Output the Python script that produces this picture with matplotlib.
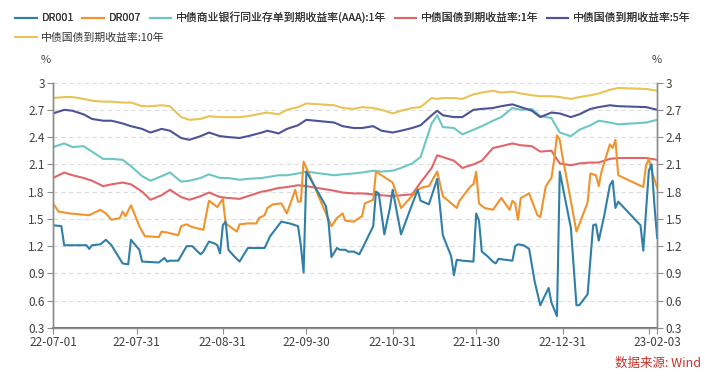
import matplotlib
matplotlib.use("Agg")
import matplotlib.pyplot as plt
import pandas as pd

plt.rcParams['font.family'] = ['Noto Sans CJK SC', 'DejaVu Sans']

# DR001
dr001_dates = ['2022-07-01', '2022-07-04', '2022-07-05', '2022-07-11', '2022-07-13', '2022-07-14',
               '2022-07-15', '2022-07-18', '2022-07-20', '2022-07-22', '2022-07-26', '2022-07-28',
               '2022-07-29', '2022-08-01', '2022-08-02', '2022-08-08', '2022-08-10', '2022-08-11',
               '2022-08-12', '2022-08-15', '2022-08-18', '2022-08-20', '2022-08-23', '2022-08-24',
               '2022-08-26', '2022-08-28', '2022-08-29', '2022-08-30', '2022-08-31', '2022-09-01',
               '2022-09-02', '2022-09-04', '2022-09-06', '2022-09-09', '2022-09-15', '2022-09-17',
               '2022-09-21', '2022-09-24', '2022-09-27', '2022-09-28', '2022-09-29', '2022-09-30',
               '2022-10-07', '2022-10-08', '2022-10-09', '2022-10-11', '2022-10-12', '2022-10-14',
               '2022-10-15', '2022-10-17', '2022-10-19', '2022-10-21', '2022-10-24', '2022-10-25',
               '2022-10-26', '2022-10-28', '2022-10-30', '2022-10-31', '2022-11-03', '2022-11-06',
               '2022-11-09', '2022-11-10', '2022-11-13', '2022-11-16', '2022-11-18', '2022-11-21',
               '2022-11-22', '2022-11-23', '2022-11-25', '2022-11-29', '2022-11-30', '2022-12-01',
               '2022-12-02', '2022-12-04', '2022-12-06', '2022-12-07', '2022-12-08', '2022-12-13',
               '2022-12-14', '2022-12-15', '2022-12-17', '2022-12-19', '2022-12-21', '2022-12-23',
               '2022-12-26', '2022-12-27', '2022-12-29', '2022-12-30', '2023-01-03', '2023-01-05',
               '2023-01-06', '2023-01-09', '2023-01-11', '2023-01-12', '2023-01-13', '2023-01-15',
               '2023-01-17', '2023-01-18', '2023-01-19', '2023-01-20', '2023-01-28', '2023-01-29',
               '2023-01-31', '2023-02-01', '2023-02-02', '2023-02-03']
dr001 = [1.43, 1.42, 1.21, 1.21, 1.21, 1.17,
         1.21, 1.22, 1.27, 1.21, 1.01, 1.00,
         1.27, 1.16, 1.03, 1.02, 1.07, 1.03,
         1.04, 1.04, 1.20, 1.20, 1.11, 1.14,
         1.25, 1.23, 1.21, 1.12, 1.43, 1.47,
         1.16, 1.09, 1.03, 1.18, 1.18, 1.31,
         1.47, 1.45, 1.42, 1.21, 0.91, 2.02,
         1.64, 1.45, 1.08, 1.18, 1.16, 1.16,
         1.14, 1.14, 1.11, 1.23, 1.42, 1.80,
         1.78, 1.33, 1.62, 1.82, 1.33, 1.58,
         1.82, 1.70, 1.66, 1.94, 1.32, 1.09,
         0.88, 1.05, 1.04, 1.03, 1.56, 1.48,
         1.14, 1.09, 1.03, 1.01, 1.06, 1.04,
         1.20, 1.22, 1.21, 1.17, 0.81, 0.55,
         0.74, 0.58, 0.43, 2.02, 1.40, 0.55,
         0.55, 0.67, 1.43, 1.44, 1.26, 1.54,
         1.87, 1.92, 1.62, 1.69, 1.43, 1.15,
         2.03, 2.10, 1.65, 1.29]

# DR007
dr007_dates = ['2022-07-01', '2022-07-03', '2022-07-07', '2022-07-14', '2022-07-18', '2022-07-20',
               '2022-07-22', '2022-07-25', '2022-07-26', '2022-07-27', '2022-07-29', '2022-08-01',
               '2022-08-03', '2022-08-08', '2022-08-09', '2022-08-11', '2022-08-15', '2022-08-16',
               '2022-08-18', '2022-08-20', '2022-08-24', '2022-08-26', '2022-08-29', '2022-08-31',
               '2022-09-01', '2022-09-05', '2022-09-06', '2022-09-09', '2022-09-12', '2022-09-13',
               '2022-09-15', '2022-09-16', '2022-09-18', '2022-09-21', '2022-09-23', '2022-09-26',
               '2022-09-27', '2022-09-28', '2022-09-29', '2022-09-30', '2022-10-09', '2022-10-11',
               '2022-10-13', '2022-10-14', '2022-10-17', '2022-10-19', '2022-10-20', '2022-10-21',
               '2022-10-24', '2022-10-25', '2022-10-26', '2022-10-31', '2022-11-03', '2022-11-09',
               '2022-11-11', '2022-11-13', '2022-11-16', '2022-11-18', '2022-11-23', '2022-11-24',
               '2022-11-28', '2022-11-29', '2022-11-30', '2022-12-01', '2022-12-03', '2022-12-06',
               '2022-12-09', '2022-12-12', '2022-12-13', '2022-12-14', '2022-12-15', '2022-12-16',
               '2022-12-19', '2022-12-22', '2022-12-23', '2022-12-25', '2022-12-27', '2022-12-28',
               '2022-12-29', '2022-12-30', '2022-12-31', '2023-01-02', '2023-01-05', '2023-01-07',
               '2023-01-09', '2023-01-10', '2023-01-12', '2023-01-13', '2023-01-14', '2023-01-17',
               '2023-01-18', '2023-01-19', '2023-01-20', '2023-01-29', '2023-01-30', '2023-01-31',
               '2023-02-01', '2023-02-03']
dr007 = [1.67, 1.58, 1.56, 1.54, 1.60, 1.56,
         1.49, 1.51, 1.58, 1.53, 1.65, 1.42,
         1.31, 1.30, 1.36, 1.35, 1.32, 1.42,
         1.44, 1.41, 1.38, 1.70, 1.63, 1.72,
         1.45, 1.36, 1.44, 1.45, 1.45, 1.51,
         1.54, 1.62, 1.66, 1.67, 1.56, 1.82,
         1.69, 1.69, 2.13, 2.06, 1.42, 1.51,
         1.56, 1.48, 1.47, 1.51, 1.53, 1.67,
         1.71, 2.02, 2.00, 1.90, 1.62, 1.82,
         1.85, 1.86, 2.02, 1.75, 1.62, 1.70,
         1.86, 1.88, 2.02, 1.67, 1.62, 1.60,
         1.73, 1.60, 1.70, 1.67, 1.49, 1.73,
         1.78, 1.54, 1.52, 1.86, 1.95, 2.15,
         2.42, 2.37, 2.18, 1.86, 1.36, 1.52,
         1.68, 2.00, 1.98, 1.86, 2.02, 2.32,
         2.28, 2.37, 1.98, 1.85, 2.09, 2.16,
         2.03, 1.84]

# bond yields, common dates
bond_dates = ['2022-07-01', '2022-07-05', '2022-07-08', '2022-07-12', '2022-07-15', '2022-07-19',
              '2022-07-22', '2022-07-26', '2022-07-29', '2022-08-02', '2022-08-05', '2022-08-09',
              '2022-08-12', '2022-08-16', '2022-08-19', '2022-08-23', '2022-08-26', '2022-08-30',
              '2022-09-02', '2022-09-06', '2022-09-09', '2022-09-14', '2022-09-16', '2022-09-20',
              '2022-09-23', '2022-09-27', '2022-09-30', '2022-10-10', '2022-10-13', '2022-10-17',
              '2022-10-20', '2022-10-24', '2022-10-27', '2022-10-31', '2022-11-03', '2022-11-07',
              '2022-11-10', '2022-11-14', '2022-11-16', '2022-11-18', '2022-11-22', '2022-11-25',
              '2022-11-29', '2022-12-02', '2022-12-06', '2022-12-09', '2022-12-13', '2022-12-16',
              '2022-12-20', '2022-12-23', '2022-12-27', '2022-12-30', '2023-01-03', '2023-01-06',
              '2023-01-10', '2023-01-13', '2023-01-17', '2023-01-20', '2023-01-30', '2023-02-03']
ncd_1y = [2.29, 2.33, 2.29, 2.30, 2.24, 2.16, 2.16, 2.15, 2.08, 1.97, 1.92, 1.97,
          2.01, 1.91, 1.92, 1.95, 1.99, 1.95, 1.95, 1.93, 1.94, 1.95, 1.96, 1.98,
          1.98, 2.00, 2.02, 1.98, 1.99, 2.00, 2.01, 2.03, 2.02, 2.03, 2.06, 2.11,
          2.18, 2.55, 2.64, 2.51, 2.50, 2.43, 2.48, 2.52, 2.58, 2.62, 2.72, 2.70,
          2.71, 2.63, 2.61, 2.45, 2.41, 2.48, 2.53, 2.58, 2.56, 2.54, 2.56, 2.59]
cgb_1y = [1.95, 2.01, 1.98, 1.95, 1.92, 1.86, 1.88, 1.90, 1.88, 1.80, 1.71, 1.76,
          1.82, 1.74, 1.71, 1.75, 1.79, 1.74, 1.73, 1.72, 1.75, 1.80, 1.81, 1.84,
          1.85, 1.87, 1.86, 1.81, 1.79, 1.78, 1.78, 1.77, 1.76, 1.75, 1.76, 1.77,
          1.90, 2.06, 2.20, 2.18, 2.14, 2.06, 2.10, 2.14, 2.28, 2.30, 2.33, 2.31,
          2.30, 2.24, 2.25, 2.11, 2.09, 2.11, 2.12, 2.12, 2.16, 2.17, 2.17, 2.15]
cgb_5y = [2.66, 2.70, 2.69, 2.65, 2.60, 2.58, 2.58, 2.55, 2.52, 2.49, 2.45, 2.49,
          2.47, 2.39, 2.37, 2.41, 2.45, 2.41, 2.40, 2.39, 2.41, 2.45, 2.47, 2.44,
          2.49, 2.53, 2.59, 2.56, 2.52, 2.50, 2.50, 2.52, 2.47, 2.45, 2.47, 2.50,
          2.53, 2.64, 2.69, 2.64, 2.62, 2.62, 2.70, 2.71, 2.72, 2.74, 2.76, 2.73,
          2.69, 2.62, 2.67, 2.66, 2.62, 2.65, 2.71, 2.73, 2.75, 2.74, 2.73, 2.70]
cgb_10y = [2.83, 2.84, 2.84, 2.82, 2.80, 2.79, 2.79, 2.78, 2.78, 2.74, 2.74, 2.75,
           2.74, 2.62, 2.59, 2.60, 2.63, 2.62, 2.62, 2.62, 2.63, 2.66, 2.67, 2.65,
           2.70, 2.73, 2.77, 2.75, 2.72, 2.71, 2.73, 2.72, 2.70, 2.66, 2.69, 2.72,
           2.73, 2.83, 2.82, 2.83, 2.83, 2.82, 2.87, 2.89, 2.91, 2.89, 2.90, 2.88,
           2.86, 2.85, 2.85, 2.84, 2.82, 2.84, 2.86, 2.88, 2.92, 2.94, 2.93, 2.91]

labels = ['DR001', 'DR007', '中债商业银行同业存单到期收益率(AAA):1年',
          '中债国债到期收益率:1年', '中债国债到期收益率:5年', '中债国债到期收益率:10年']
colors = ['#2f7fa8', '#f0932b', '#6cc7c3', '#e0666a', '#4b5495', '#e8c453']

tick_dates = ['2022-07-01', '2022-07-31', '2022-08-31', '2022-09-30', '2022-10-31',
              '2022-11-30', '2022-12-31', '2023-01-31', '2023-02-03']
tick_labels = ['22-07-01', '22-07-31', '22-08-31', '22-09-30', '22-10-31',
               '22-11-30', '22-12-31', '', '23-02-03']
y_ticks = [0.3, 0.6, 0.9, 1.2, 1.5, 1.8, 2.1, 2.4, 2.7, 3.0]
y_labels = ['0.3', '0.6', '0.9', '1.2', '1.5', '1.8', '2.1', '2.4', '2.7', '3']

fig = plt.figure(figsize=(7.05, 3.84), dpi=100)
ax = fig.add_axes([0.0752, 0.146, 0.857, 0.639])

series = [(dr001_dates, dr001), (dr007_dates, dr007), (bond_dates, ncd_1y),
          (bond_dates, cgb_1y), (bond_dates, cgb_5y), (bond_dates, cgb_10y)]
handles = []
for (d, v), lab, c in zip(series, labels, colors):
    h, = ax.plot(pd.to_datetime(d), v, color=c, lw=1.5, label=lab)
    handles.append(h)
# DR lines on top
handles[0].set_zorder(4)
handles[1].set_zorder(3)

ax.set_xlim(pd.Timestamp('2022-07-01'), pd.Timestamp('2023-02-03'))
ax.set_ylim(0.3, 3.0)
ax.set_yticks(y_ticks)
ax.set_yticklabels(y_labels)
ax.set_xticks(pd.to_datetime(tick_dates))
ax.set_xticklabels(tick_labels)
ax.yaxis.grid(True, linestyle=(0, (4, 3)), color='#dcdcdc', lw=0.8)
ax.set_axisbelow(True)

ax2 = ax.twinx()
ax2.set_ylim(0.3, 3.0)
ax2.set_yticks(y_ticks)
ax2.set_yticklabels(y_labels)

for a in (ax, ax2):
    a.spines['top'].set_visible(False)
    for s in ('left', 'right', 'bottom'):
        a.spines[s].set_color('#8c8c8c')
        a.spines[s].set_linewidth(1.0)
    a.tick_params(direction='out', length=4, width=0.8, color='#8c8c8c',
                  labelsize=8.5, labelcolor='#404040', pad=2)
ax.spines['bottom'].set_color('#555555')
ax.spines['bottom'].set_linewidth(1.2)

fig.text(0.065, 0.835, '%', fontsize=8, color='#404040', ha='center')
fig.text(0.932, 0.835, '%', fontsize=8, color='#404040', ha='center')

leg1 = fig.legend(handles[:5], labels[:5], loc='upper left', bbox_to_anchor=(0.008, 0.995),
                  ncol=5, frameon=False, fontsize=7.8, handlelength=2.0, handletextpad=0.4,
                  columnspacing=0.8, labelcolor='#333333')
fig.legend(handles[5:], labels[5:], loc='upper left', bbox_to_anchor=(0.008, 0.94),
           ncol=1, frameon=False, fontsize=7.8, handlelength=2.0, handletextpad=0.4,
           labelcolor='#333333')
fig.add_artist(leg1)

fig.text(0.995, 0.045, '数据来源: Wind', fontsize=9, color='#c8312c', ha='right')

fig.savefig('out.png', dpi=100)
